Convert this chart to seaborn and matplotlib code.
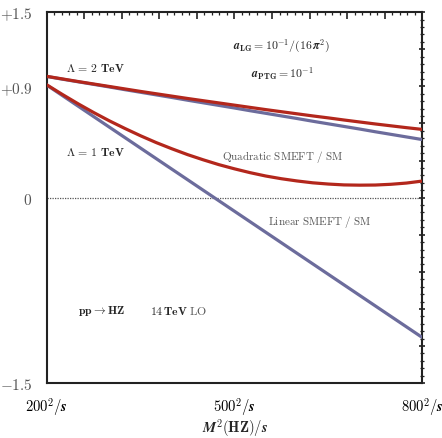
import numpy as np
import pandas as pd
import seaborn as sns
import matplotlib.pyplot as plt
from matplotlib.ticker import FixedLocator, FuncFormatter

# masse invariante M(HZ) en GeV
masse = [200, 225, 250, 275, 300, 325, 350, 375, 400, 425, 450, 475, 500,
         525, 550, 575, 600, 625, 650, 675, 700, 725, 750, 775, 800]

# Lambda = 1 TeV
lin_1tev = [0.910, 0.825, 0.740, 0.655, 0.570, 0.485, 0.400, 0.315, 0.230, 0.145,
            0.060, -0.025, -0.110, -0.195, -0.280, -0.365, -0.450, -0.535, -0.620,
            -0.705, -0.790, -0.875, -0.960, -1.045, -1.130]
quad_1tev = [0.912, 0.834, 0.759, 0.688, 0.621, 0.559, 0.500, 0.445, 0.395, 0.348,
             0.306, 0.267, 0.233, 0.202, 0.175, 0.153, 0.135, 0.120, 0.110, 0.103,
             0.101, 0.102, 0.108, 0.118, 0.134]

# Lambda = 2 TeV
lin_2tev = [0.980, 0.958, 0.937, 0.916, 0.895, 0.873, 0.852, 0.831, 0.810, 0.788,
            0.767, 0.746, 0.725, 0.703, 0.682, 0.661, 0.640, 0.618, 0.597, 0.576,
            0.555, 0.533, 0.512, 0.491, 0.470]
quad_2tev = [0.981, 0.960, 0.939, 0.919, 0.899, 0.879, 0.859, 0.840, 0.821, 0.802,
             0.784, 0.766, 0.748, 0.730, 0.712, 0.695, 0.678, 0.661, 0.645, 0.628,
             0.612, 0.596, 0.581, 0.566, 0.552]

x_ticks = [200, 500, 800]
x_labels = [r"$\mathbf{200^2}/\mathbfit{s}$", r"$\mathbf{500^2}/\mathbfit{s}$",
            r"$\mathbf{800^2}/\mathbfit{s}$"]
y_ticks = [1.5, 0.9, 0.0, -1.5]
y_labels = ["$+1.5$", "$+0.9$", "$0$", "$-1.5$"]

df = pd.DataFrame({
    "M": masse * 4,
    "ratio": lin_1tev + lin_2tev + quad_1tev + quad_2tev,
    "courbe": (["lin1"] * len(masse) + ["lin2"] * len(masse)
               + ["quad1"] * len(masse) + ["quad2"] * len(masse)),
})

sns.set_style("white")
plt.rcParams["mathtext.fontset"] = "cm"
plt.rcParams["font.family"] = ["DejaVu Serif"]

rouge = "#b3271c"
bleu = "#6c6c9c"

fig = plt.figure(figsize=(4.42, 4.39), dpi=100)
ax = fig.add_axes([0.106, 0.125, 0.849, 0.845])

ax.axhline(0, color="#555555", lw=0.9, ls=(0, (1, 1)), zorder=1)

sns.lineplot(data=df, x="M", y="ratio", hue="courbe",
             hue_order=["lin1", "lin2", "quad1", "quad2"],
             palette={"lin1": bleu, "lin2": bleu, "quad1": rouge, "quad2": rouge},
             lw=2.3, legend=False, ax=ax, zorder=3)

ax.set_xlim(200, 800)
ax.set_ylim(-1.5, 1.5)

# graduations : moyennes tous les 60 GeV / 0.3, petites tous les 12 GeV / 0.06
ax.xaxis.set_major_locator(FixedLocator(np.arange(200, 801, 60)))
ax.xaxis.set_minor_locator(FixedLocator(np.arange(200, 801, 12)))
ax.yaxis.set_major_locator(FixedLocator(np.round(np.arange(-1.5, 1.51, 0.3), 2)))
ax.yaxis.set_minor_locator(FixedLocator(np.round(np.arange(-1.5, 1.51, 0.06), 2)))


def fmt_x(v, p):
    v = int(round(v))
    return x_labels[x_ticks.index(v)] if v in x_ticks else ""


def fmt_y(v, p):
    yt = [round(t, 2) for t in y_ticks]
    v = round(v, 2)
    return y_labels[yt.index(v)] if v in yt else ""


ax.xaxis.set_major_formatter(FuncFormatter(fmt_x))
ax.yaxis.set_major_formatter(FuncFormatter(fmt_y))

ax.tick_params(which="both", direction="in", top=True, right=True, color="#222222")
ax.tick_params(axis="y", which="both", direction="inout")
ax.tick_params(which="major", length=5, width=1.2)
ax.tick_params(which="minor", length=2.5, width=0.9)
ax.tick_params(axis="y", labelsize=11, labelcolor="#555555", pad=8)
ax.tick_params(axis="x", labelsize=10.5, labelcolor="black", pad=9)

for s in ax.spines.values():
    s.set_linewidth(1.5)
    s.set_color("#222222")

ax.set_xlabel(r"$\mathbfit{M}^{\mathbf{2}}\mathbf{(HZ)}/\mathbfit{s}$", fontsize=10.5)
ax.xaxis.set_label_coords(0.5, -0.088)
ax.set_ylabel("")

# annotations
ax.text(277, 1.05, r"$\mathbf{\Lambda\,=\,2\ TeV}$", fontsize=8.5, ha="center", va="center")
ax.text(277, 0.37, r"$\mathbf{\Lambda\,=\,1\ TeV}$", fontsize=8.5, ha="center", va="center")
ax.text(576, 1.235, r"$\mathbfit{a}_{\mathbf{LG}} \mathbf{= 10^{-1}/(16\,}\mathbfit{\pi}^{\mathbf{2}}\mathbf{)}$",
        fontsize=8.5, ha="center", va="center")
ax.text(576, 1.005, r"$\mathbfit{a}_{\mathbf{PTG}} \mathbf{= 10^{-1}}$", fontsize=8.5,
        ha="center", va="center")
ax.text(480, 0.336, r"$\mathrm{Quadratic\ SMEFT\ /\ SM}$", fontsize=8,
        color="#555555", ha="left", va="center")
ax.text(554, -0.19, r"$\mathrm{Linear\ SMEFT\ /\ SM}$", fontsize=8,
        color="#555555", ha="left", va="center")
ax.text(250, -0.91, r"$\mathbf{pp \rightarrow HZ}$", fontsize=8.5, ha="left", va="center")
ax.text(365, -0.91, r"$\mathbf{14\,TeV}$", fontsize=8.5, ha="left", va="center")
ax.text(428, -0.91, r"$\mathrm{LO}$", fontsize=8.5, color="#555555", ha="left", va="center")

plt.savefig("out.png", dpi=100)
